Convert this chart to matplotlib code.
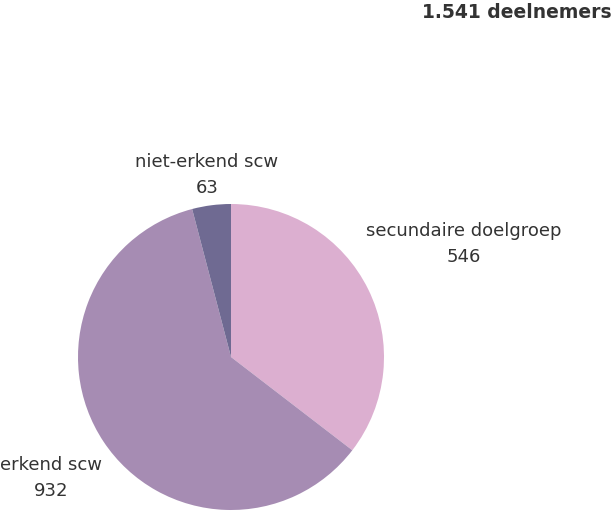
import matplotlib.pyplot as plt

categories = ["secundaire doelgroep", "erkend scw", "niet-erkend scw"]
values = [546, 932, 63]
colors = ["#DCAFD0", "#A68CB3", "#6F6A92"]
total_label = "1.541 deelnemers"

# label anchor positions in pixels (x, y from top)
label_pos = [(464, 244), (51, 478), (207, 175)]

W, H = 615, 512
fig = plt.figure(figsize=(W / 100, H / 100), dpi=100)
ax = fig.add_axes([0, 0, 1, 1])

ax.pie(values, colors=colors, startangle=90, counterclock=False,
       center=(231, H - 357), radius=153, frame=True,
       wedgeprops=dict(linewidth=0))
ax.set_xlim(0, W)
ax.set_ylim(0, H)
ax.set_aspect("equal")
ax.set_axis_off()

for name, val, (x, y) in zip(categories, values, label_pos):
    ax.text(x, H - y, f"{name}\n{val}", ha="center", va="center",
            fontsize=13, color="#333333", linespacing=1.55)

ax.text(612, H - 13, total_label, ha="right", va="center",
        fontsize=13.5, fontweight="bold", color="#333333")

fig.savefig("out.png", dpi=100)
